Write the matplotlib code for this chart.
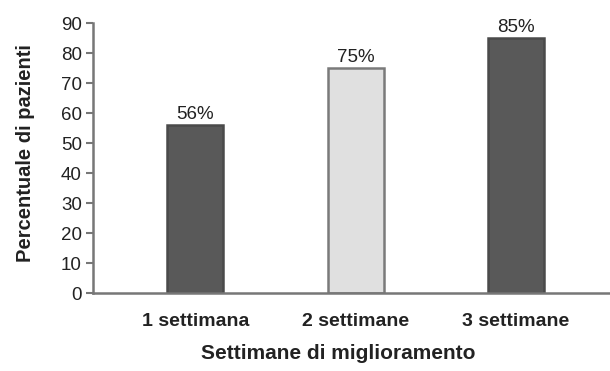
import matplotlib
matplotlib.use("Agg")
import matplotlib.pyplot as plt

plt.rcParams["font.family"] = ["Liberation Sans", "DejaVu Sans"]

categories = ["1 settimana", "2 settimane", "3 settimane"]
percent = [56, 75, 85]
labels = ["56%", "75%", "85%"]
fills = ["#595959", "#e0e0e0", "#595959"]
edges = ["#4a4a4a", "#7a7a7a", "#4a4a4a"]

fig = plt.figure(figsize=(6.1, 3.71), dpi=100)
ax = fig.add_axes([0.1525, 0.21, 0.8475, 0.728])

x = range(len(categories))
bars = ax.bar(x, percent, width=0.35, color=fills, edgecolor=edges, linewidth=1.8, zorder=2)
for b, t in zip(bars, labels):
    ax.text(b.get_x() + b.get_width() / 2, b.get_height() + 0.6, t,
            ha="center", va="bottom", fontsize=13.5, color="#222222")

ax.set_xlim(-0.64, 2.59)
ax.set_ylim(0, 90)
ax.set_yticks(range(0, 91, 10))
ax.set_xticks(list(x), categories, fontsize=14, fontweight="bold", color="#222222")
ax.tick_params(axis="y", labelsize=13.5, labelcolor="#222222", color="#777777",
               length=5, width=1.5, direction="out", pad=3)
ax.tick_params(axis="x", length=0, pad=14)

for s in ("top", "right"):
    ax.spines[s].set_visible(False)
for s in ("left", "bottom"):
    ax.spines[s].set_color("#777777")
    ax.spines[s].set_linewidth(1.8)

ax.set_ylabel("Percentuale di pazienti", fontsize=14.5, fontweight="bold", color="#222222")
ax.yaxis.set_label_coords(-0.112, 0.52)
ax.set_xlabel("Settimane di miglioramento", fontsize=15, fontweight="bold", color="#222222")
ax.xaxis.set_label_coords(0.474, -0.19)

fig.savefig("out.png", dpi=100)
